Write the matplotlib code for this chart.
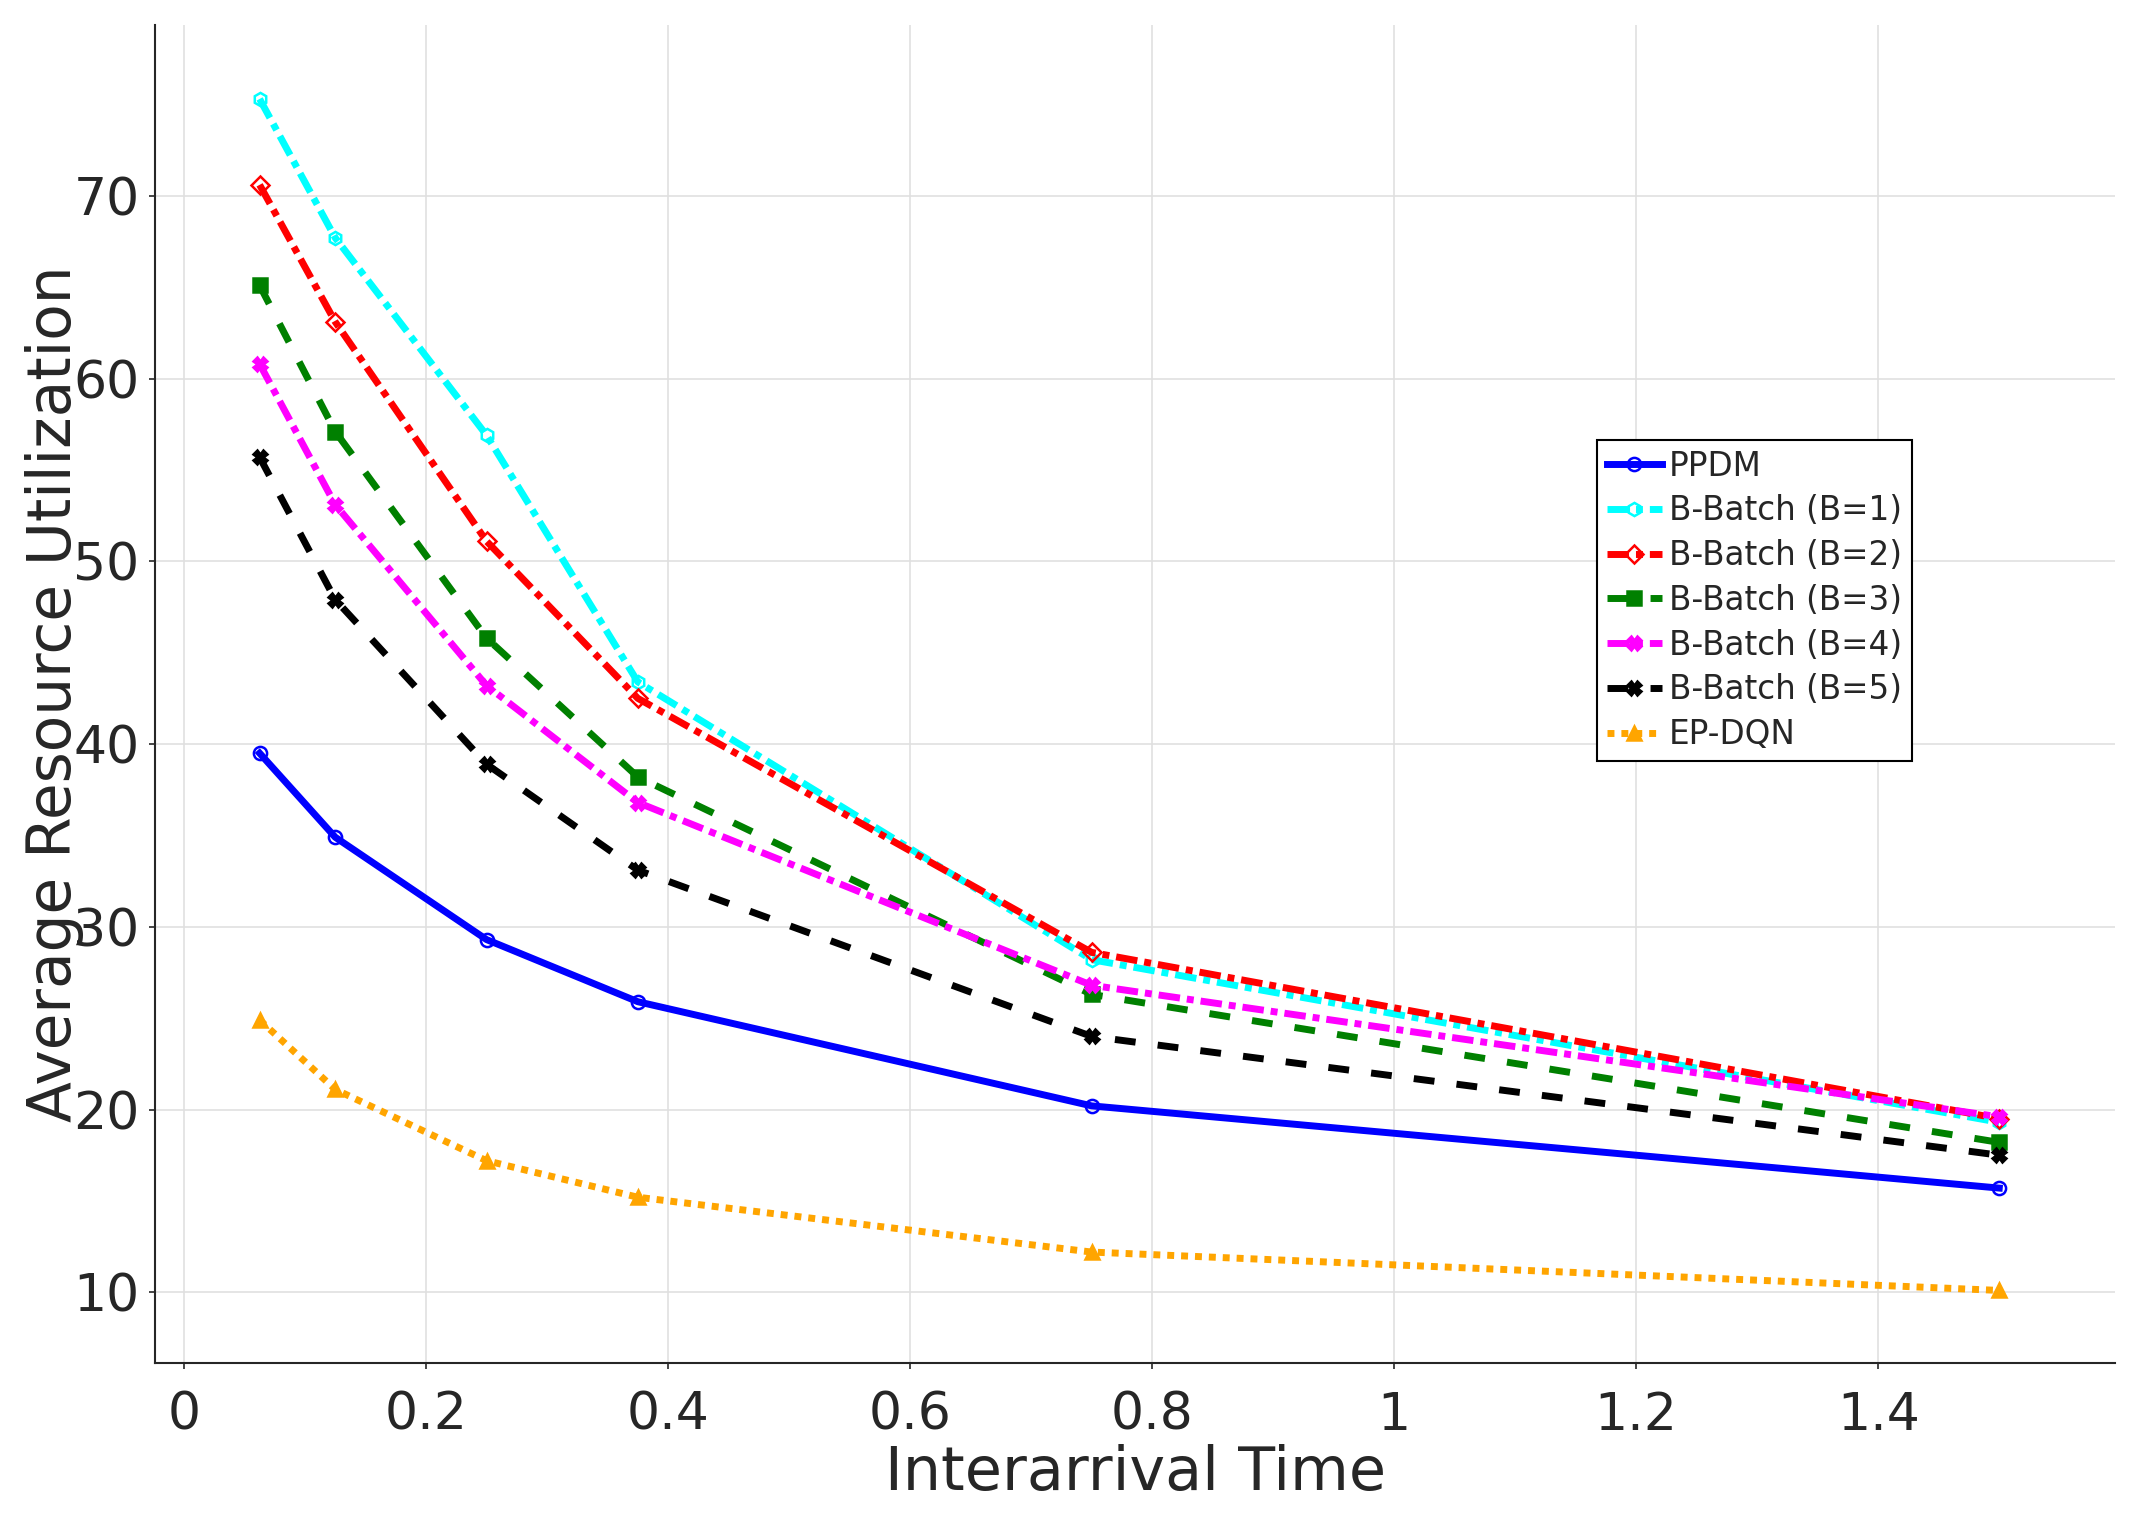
import matplotlib
matplotlib.use('Agg')
import matplotlib.pyplot as plt
from matplotlib.ticker import FuncFormatter

# interarrival times (x) and average resource utilization per method
interarrival = [0.0625, 0.125, 0.25, 0.375, 0.75, 1.5]

ppdm = [39.5, 34.9, 29.3, 25.9, 20.2, 15.7]
bbatch_1 = [75.3, 67.7, 56.9, 43.4, 28.2, 19.3]
bbatch_2 = [70.6, 63.1, 51.1, 42.5, 28.6, 19.5]
bbatch_3 = [65.1, 57.1, 45.8, 38.2, 26.3, 18.2]
bbatch_4 = [60.8, 53.1, 43.2, 36.8, 26.8, 19.6]
bbatch_5 = [55.7, 47.9, 38.9, 33.1, 24.0, 17.5]
ep_dqn = [24.9, 21.1, 17.2, 15.2, 12.2, 10.1]

labels = ['PPDM', 'B-Batch (B=1)', 'B-Batch (B=2)', 'B-Batch (B=3)',
          'B-Batch (B=4)', 'B-Batch (B=5)', 'EP-DQN']
series = [ppdm, bbatch_1, bbatch_2, bbatch_3, bbatch_4, bbatch_5, ep_dqn]

dashdot = (0, (3.1, 1, 1, 1))
dashed = (0, (3, 3.2))
styles = [
    dict(color='blue', ls='-', marker='o', mfc='none'),
    dict(color='cyan', ls=dashdot, marker='h', mfc='none'),
    dict(color='red', ls=dashdot, marker='D', mfc='none'),
    dict(color='green', ls=dashed, marker='s', mfc='green'),
    dict(color='magenta', ls=dashdot, marker='X', mfc='magenta'),
    dict(color='black', ls=dashed, marker='X', mfc='black'),
    dict(color='orange', ls=(0, (1, 1)), marker='^', mfc='orange'),
]

text_color = '#262626'

fig = plt.figure(figsize=(21.31, 15.2), dpi=100)
ax = fig.add_axes([0.0727, 0.1033, 0.92, 0.8803])

for y, lab, st in zip(series, labels, styles):
    ax.plot(interarrival, y, label=lab, color=st['color'], linestyle=st['ls'],
            linewidth=5, marker=st['marker'], markersize=9.5,
            markerfacecolor=st['mfc'], markeredgecolor=st['color'],
            markeredgewidth=1.8)

ax.set_xlim(-0.024, 1.596)
ax.set_ylim(6.13, 79.35)
ax.set_xticks([0, 0.2, 0.4, 0.6, 0.8, 1.0, 1.2, 1.4])
ax.set_yticks([10, 20, 30, 40, 50, 60, 70])
ax.xaxis.set_major_formatter(FuncFormatter(lambda v, p: '%g' % v))

ax.grid(True, color='#e0e0e0', linewidth=1.2)
ax.set_axisbelow(True)
for side in ['top', 'right']:
    ax.spines[side].set_visible(False)
for side in ['left', 'bottom']:
    ax.spines[side].set_color(text_color)
    ax.spines[side].set_linewidth(1.5)

ax.tick_params(axis='both', labelsize=37.5, colors=text_color, length=4, width=1.2)
ax.tick_params(axis='x', pad=16)
ax.tick_params(axis='y', pad=7)

ax.set_xlabel('Interarrival Time', fontsize=43.5, color=text_color, labelpad=2)
ax.set_ylabel('Average Resource Utilization', fontsize=43, color=text_color)
ax.yaxis.set_label_coords(-0.036, 0.5)

leg = ax.legend(loc='upper right', bbox_to_anchor=(0.896, 0.69), fontsize=23.5,
                fancybox=False, framealpha=1, edgecolor='black',
                handlelength=1.7, handletextpad=0.2, borderpad=0.3,
                labelspacing=0.36, borderaxespad=0)
leg.get_frame().set_linewidth(1.5)
for t in leg.get_texts():
    t.set_color(text_color)

fig.savefig('out.png', dpi=100)
